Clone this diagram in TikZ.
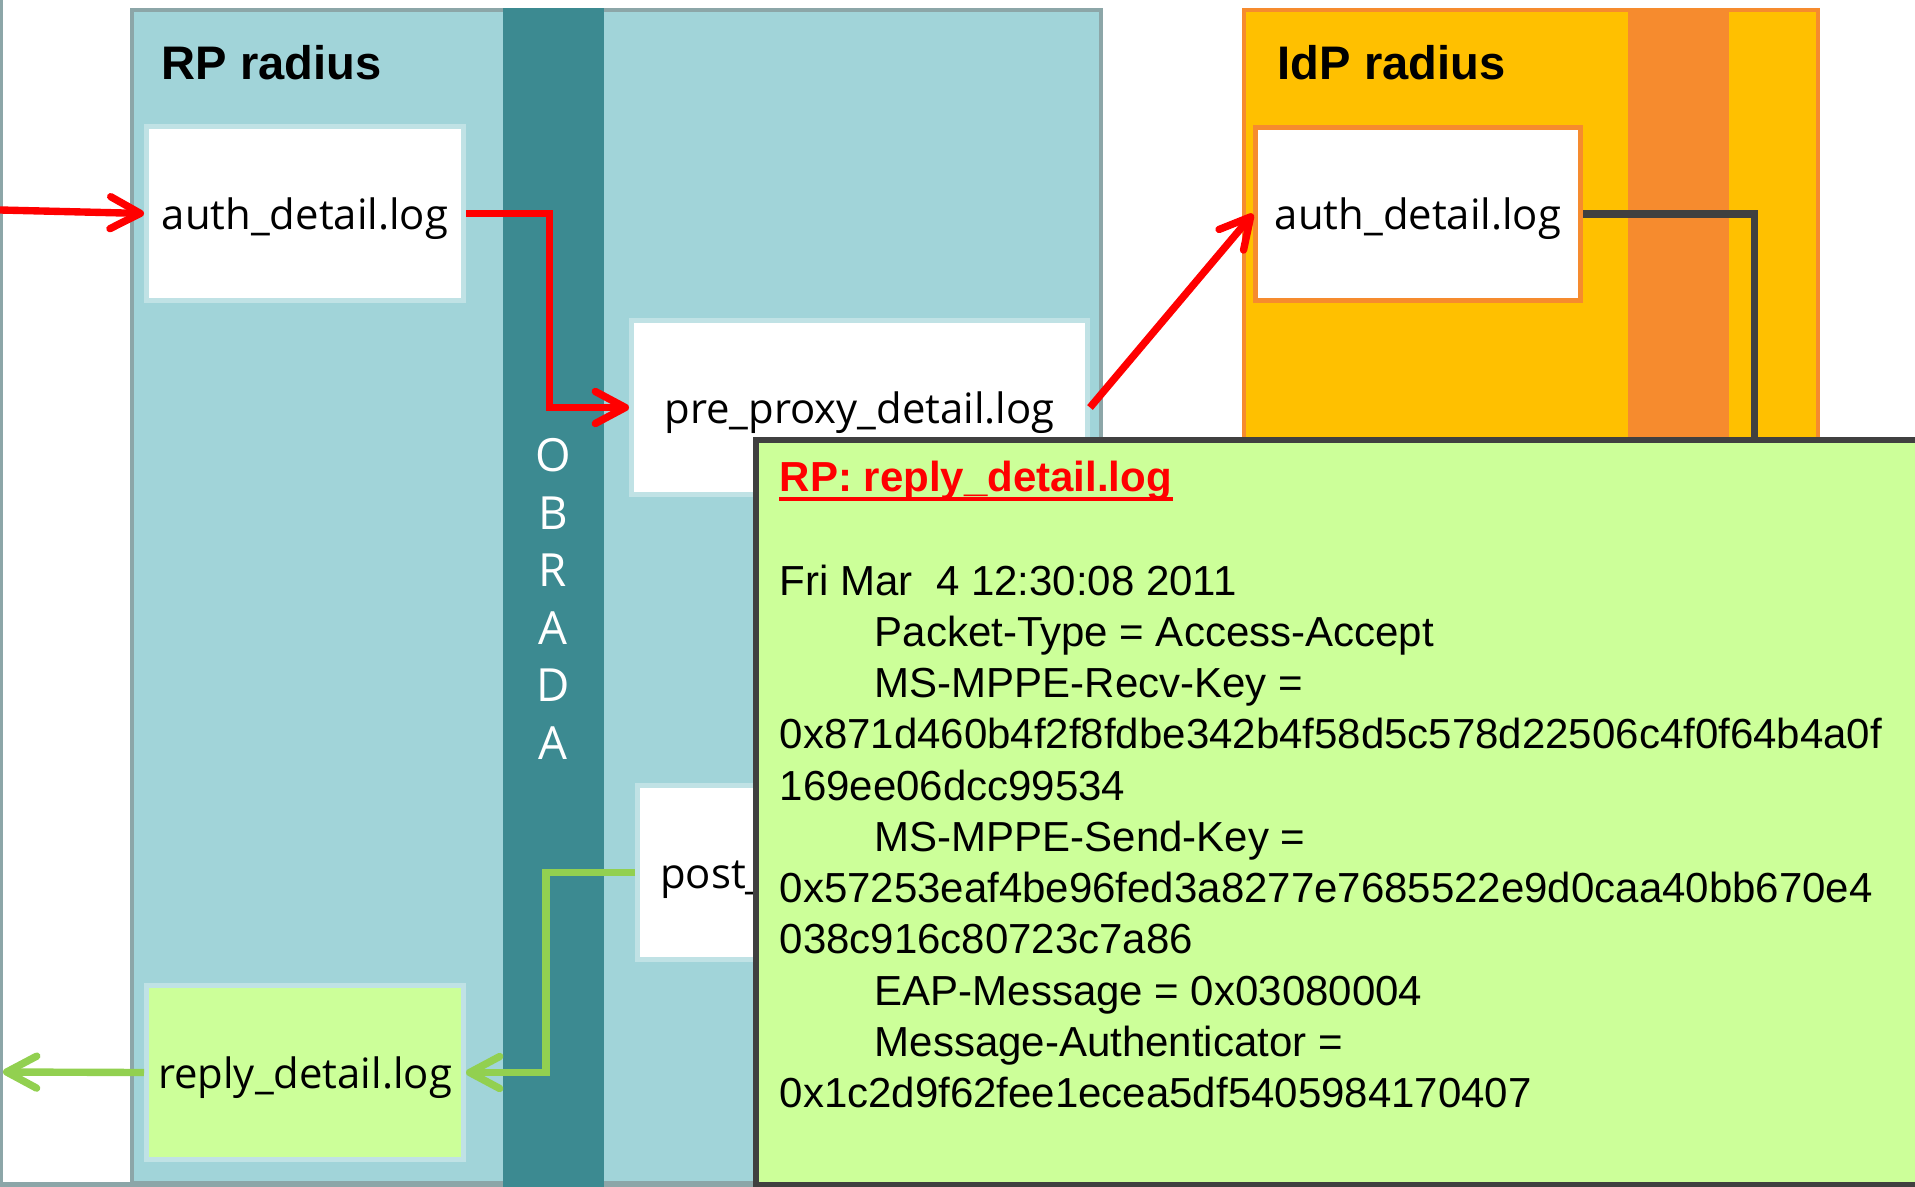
\documentclass[tikz,border=0pt]{standalone}
\usepackage{fontspec}
\newfontfamily\opensans{Open Sans}
\newfontfamily\arial{Liberation Sans}
\usetikzlibrary{arrows.meta,positioning,calc}
\definecolor{cRP}{HTML}{A1D4D9}
\definecolor{cRPline}{HTML}{8CA6A8}
\definecolor{cBand}{HTML}{3C8A91}
\definecolor{cEdge}{HTML}{C0E2E5}
\definecolor{cIdP}{HTML}{FFC000}
\definecolor{cOrange}{HTML}{F68B2E}
\definecolor{cPop}{HTML}{CCFF99}
\definecolor{cDark}{HTML}{404040}
\definecolor{cGreen}{HTML}{92D050}
\definecolor{cRed}{HTML}{FF0000}
\newcommand\logfont{\opensans\fontsize{11.9pt}{14pt}\selectfont}
\newcommand\popfont{\arial\fontsize{11.95pt}{14pt}\selectfont}
\newcommand\headfont{\arial\bfseries\fontsize{13.4pt}{16pt}\selectfont}
\tikzset{
  logbox/.style={rectangle, draw=cEdge, line width=0.5mm, fill=white, minimum width=3.17cm, minimum height=1.74cm, inner sep=0pt, text height=0.42cm, text depth=0.1cm, font=\logfont},
  widebox/.style={logbox, minimum width=4.56cm},
  flow/.style={-{Straight Barb[length=3mm, width=3.2mm, round]}, line width=2.1pt},
  head/.style={anchor=base west, inner sep=0pt, font=\headfont},
  popline/.style={anchor=base west, inner sep=0pt, font=\popfont},
}

\begin{document}
\begin{tikzpicture}
  \useasboundingbox (0,0) rectangle (19.15,11.86);
  \clip (0,0) rectangle (19.15,11.86);
  \fill[white] (0,0) rectangle (19.15,11.86);
  \draw[cRPline, line width=0.5mm] (0.01,11.9) -- (0.01,0.02) -- (7.6,0.02);
  % RP side
  \draw[cRPline, fill=cRP, line width=0.45mm] (1.32,0.03) rectangle (11.01,11.76);
  \fill[cBand] (5.03,-0.1) rectangle (6.04,11.78);
  \node[head] (rpHead) at (1.61,11.06) {RP radius};
  \foreach \ch [count=\i] in {O,B,R,A,D,A}
    \node[white, font=\opensans\fontsize{13pt}{15pt}\selectfont] (ob\i) at (5.53,{7.305-0.5745*(\i-1)}) {\ch};
  \node[logbox] (rpAuth) at (3.05,9.725) {auth\_detail.log};
  \node[widebox] (preProxy) at (8.595,7.785) {pre\_proxy\_detail.log};
  \node[widebox] (postProxy) at (8.655,3.135) {post\_proxy\_detail.log};
  \node[logbox, fill=cPop] (reply) at (3.05,1.135) {reply\_detail.log};
  % IdP side
  \draw[cOrange, fill=cIdP, line width=0.45mm] (12.44,0.03) rectangle (18.18,11.76);
  \fill[cOrange] (16.28,-0.1) rectangle (17.29,11.78);
  \node[head] (idpHead) at (12.77,11.06) {IdP radius};
  \node[logbox, draw=cOrange, minimum width=3.25cm, minimum height=1.73cm] (idpAuth) at (14.18,9.72) {auth\_detail.log};
  % flows
  \coordinate (inR) at (0,9.76);
  \coordinate (outG) at (0.03,1.14);
  \coordinate (idpDown) at (17.54,7.0);
  \draw[flow, cRed] (inR) -- (rpAuth.west);
  \draw[flow, cRed] (rpAuth.east) -- ++(0.835,0) |- (preProxy.west);
  \draw[flow, cRed] (preProxy.east) -- (idpAuth.west);
  \draw[cDark, line width=2pt] (idpAuth.east) -| (idpDown);
  \draw[flow, cGreen] (postProxy.west) -- ++(-0.89,0) |- (reply.east);
  \draw[flow, cGreen] (reply.west) -- (outG);
  % popup
  \draw[cDark, fill=cPop, line width=0.6mm] (7.56,0.015) rectangle (19.5,7.46);
  \node[popline, cRed, font=\popfont\bfseries] (popHead) at (7.79,6.94) {RP: reply\_detail.log};
  \draw[cRed, line width=0.4mm] ([yshift=-0.7mm]popHead.base west) -- ([yshift=-0.7mm]popHead.base east);
  \foreach \x/\t [count=\i] in {7.79/Fri Mar~~4 12:30:08 2011, 8.74/Packet-Type = Access-Accept, 8.74/MS-MPPE-Recv-Key =, 7.79/0x871d460b4f2f8fdbe342b4f58d5c578d22506c4f0f64b4a0f, 7.79/169ee06dcc99534, 8.74/MS-MPPE-Send-Key =, 7.79/0x57253eaf4be96fed3a8277e7685522e9d0caa40bb670e4, 7.79/038c916c80723c7a86, 8.74/EAP-Message = 0x03080004, 8.74/Message-Authenticator =, 7.79/0x1c2d9f62fee1ecea5df5405984170407}
    \node[popline] (line\i) at (\x,{5.91-0.5125*(\i-1)}) {\t};
\end{tikzpicture}
\end{document}
